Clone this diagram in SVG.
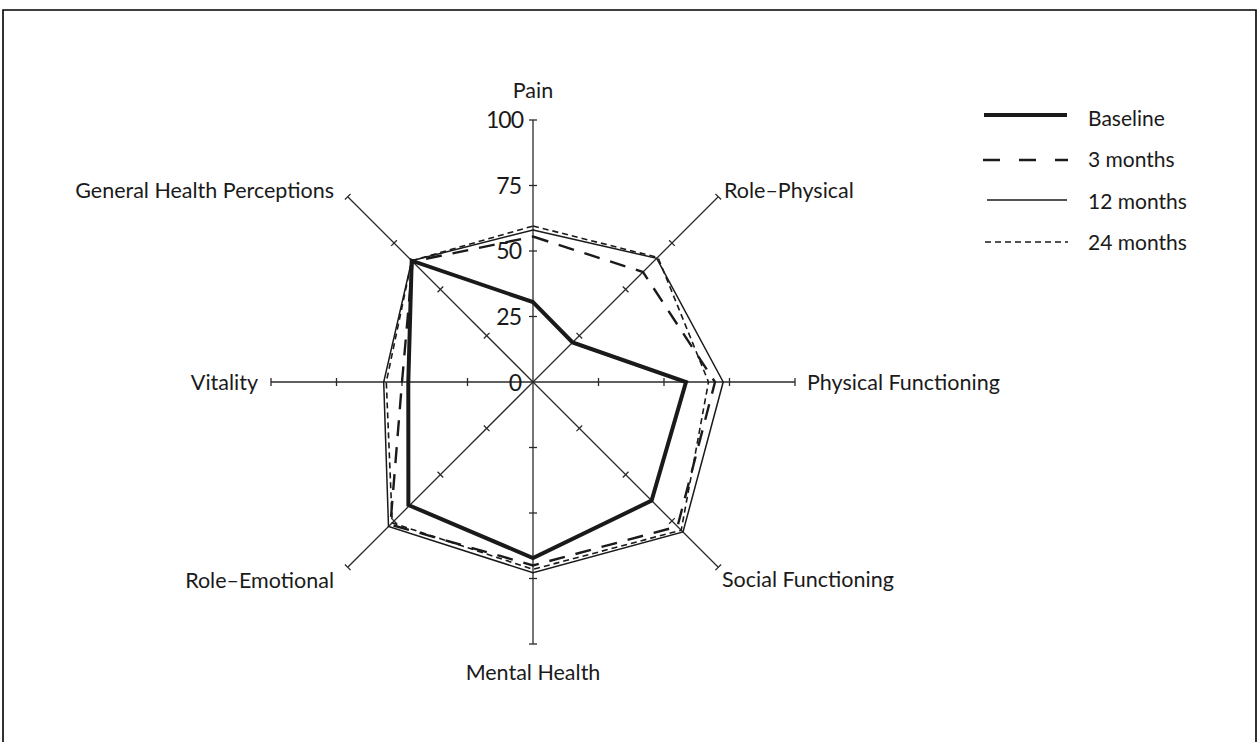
<svg xmlns="http://www.w3.org/2000/svg" xmlns:xlink="http://www.w3.org/1999/xlink" width="1260" height="742" viewBox="0 0 1260 742">
<style>
.lbl{font-family:Lato,"Open Sans","DejaVu Sans",sans-serif;font-size:21.5px;fill:#1a1a1a}
.num{font-family:Lato,"Open Sans","DejaVu Sans",sans-serif;font-size:23px;fill:#1a1a1a;letter-spacing:-1px}
.leg{font-family:Lato,"Open Sans","DejaVu Sans",sans-serif;font-size:21px;fill:#1a1a1a}
.ax{stroke:#2a2a2a;stroke-width:1.3;fill:none}
.s{fill:none;stroke:#1a1a1a;stroke-linejoin:miter}
.base{stroke-width:4}
.m3{stroke-width:2.4;stroke-dasharray:16 11}
.m12{stroke-width:1.5}
.m24{stroke-width:1.6;stroke-dasharray:6 4}
</style>
<defs>
<g id="half">
<line x1="0" y1="0" x2="0" y2="-262"/>
<line x1="-4" y1="-65.5" x2="4" y2="-65.5"/>
<line x1="-4" y1="-131" x2="4" y2="-131"/>
<line x1="-4" y1="-196.5" x2="4" y2="-196.5"/>
<line x1="-4" y1="-262" x2="4" y2="-262"/>
</g>
</defs>
<rect width="1260" height="742" fill="#fff"/>
<path d="M3,742 V10 H1256 V742" fill="none" stroke="#000" stroke-width="1.6"/>
<g id="axes" class="ax">
<use xlink:href="#half" transform="translate(533 382)"/>
<use xlink:href="#half" transform="translate(533 382) rotate(45)"/>
<use xlink:href="#half" transform="translate(533 382) rotate(90)"/>
<use xlink:href="#half" transform="translate(533 382) rotate(135)"/>
<use xlink:href="#half" transform="translate(533 382) rotate(180)"/>
<use xlink:href="#half" transform="translate(533 382) rotate(225)"/>
<use xlink:href="#half" transform="translate(533 382) rotate(270)"/>
<use xlink:href="#half" transform="translate(533 382) rotate(315)"/>
</g>
<g id="scale" class="num" text-anchor="end">
<text x="523" y="128">100</text>
<text x="521" y="194">75</text>
<text x="521" y="259">50</text>
<text x="521" y="325">25</text>
<text x="521" y="391">0</text>
</g>
<g id="series">
<polygon id="s24" class="s m24" points="533,226 658,257.5 708.5,382 681.2,530.2 533,569.3 392.2,522.8 386.3,382 411.7,260.7"/>
<polygon id="s12" class="s m12" points="533,230 656.7,258.3 723.2,382 683,532 533,572.7 388.5,526.5 383.7,382 411.7,260.7"/>
<polygon id="s3" class="s m3" points="533,236.6 643,272 715,382 677.5,526.5 533,565.4 390.4,524.6 402,382 412.6,261.6"/>
<polygon id="sbase" class="s base" points="533,302.1 572.6,342.4 686,382 651.6,500.6 533,558.1 408.4,505 408.3,382 411.7,260.7"/>
</g>
<g id="n-pain"><text class="lbl" x="533" y="98" text-anchor="middle">Pain</text></g>
<g id="n-rp"><text class="lbl" x="724" y="198">Role–Physical</text></g>
<g id="n-pf"><text class="lbl" x="807" y="390">Physical Functioning</text></g>
<g id="n-sf"><text class="lbl" x="722" y="587">Social Functioning</text></g>
<g id="n-mh"><text class="lbl" x="533" y="680" text-anchor="middle">Mental Health</text></g>
<g id="n-re"><text class="lbl" x="334" y="588" text-anchor="end">Role–Emotional</text></g>
<g id="n-v"><text class="lbl" x="258" y="390" text-anchor="end">Vitality</text></g>
<g id="n-ghp"><text class="lbl" x="334" y="198" text-anchor="end">General Health Perceptions</text></g>
<g id="legend">
<line class="s base" x1="984" y1="115" x2="1067" y2="115"/>
<line class="s" stroke-width="2.4" stroke-dasharray="17 19" x1="983" y1="160" x2="1068" y2="160"/>
<line class="s m12" x1="987" y1="200" x2="1067" y2="200"/>
<line class="s m24" x1="985" y1="242" x2="1068" y2="242"/>
<text class="leg" x="1088" y="126">Baseline</text>
<text class="leg" x="1088" y="167">3 months</text>
<text class="leg" x="1088" y="209">12 months</text>
<text class="leg" x="1088" y="250">24 months</text>
</g>
</svg>
